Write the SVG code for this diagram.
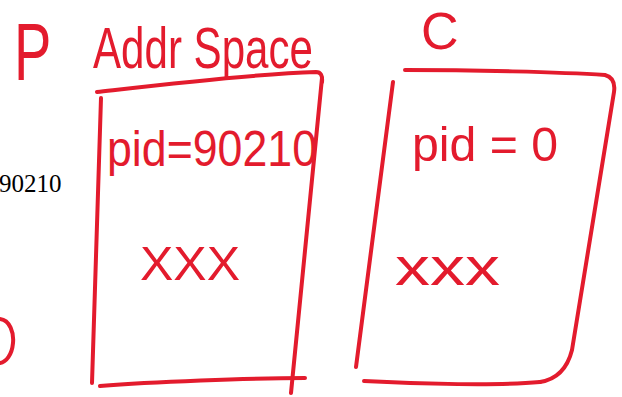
<svg xmlns="http://www.w3.org/2000/svg" width="622" height="397" viewBox="0 0 622 397">
<style>
.ink{fill:none;stroke:#e31b2d;stroke-width:4;stroke-linecap:round;stroke-linejoin:round}
.hw{fill:#e31b2d;font-family:"Liberation Sans",Arial,sans-serif}
.tx{fill:#000;font-family:"Liberation Serif","Times New Roman",serif}
</style>
<rect width="622" height="397" fill="#fff"/>
<g id="label-p"><text class="hw" transform="translate(14,80) scale(1,1.45)" font-size="56">P</text></g>
<g id="label-addr"><text class="hw" x="93" y="68" font-size="58" textLength="220" lengthAdjust="spacingAndGlyphs">Addr Space</text></g>
<g id="label-c"><text class="hw" x="421" y="49" font-size="52">C</text></g>
<g id="side-text"><text class="tx" x="-1" y="192" font-size="25">90210</text></g>
<g id="side-arc"><path class="ink" d="M0,319 C10,320 14,333 13,343 C12,355 6,362 0,363"/></g>
<g id="parent-box">
<path class="ink" d="M97,92 C150,86 250,74 316,72 Q323,72 322,82"/>
<path class="ink" d="M322,78 L291,393"/>
<path class="ink" d="M101,98 L92,383"/>
<path class="ink" d="M100,386 C150,382 250,378 305,378"/>
<text class="hw" x="107" y="166" font-size="50" textLength="210" lengthAdjust="spacingAndGlyphs">pid=90210</text>
<text class="hw" x="140" y="280" font-size="48" textLength="100" lengthAdjust="spacingAndGlyphs">XXX</text>
</g>
<g id="child-box">
<path class="ink" d="M405,70 C470,70 560,72 605,75 Q616,78 614,92 L572,350 Q565,378 540,382"/>
<path class="ink" d="M364,381 C420,384 500,386 540,382"/>
<path class="ink" d="M393,82 L356,367"/>
<text class="hw" x="412" y="161" font-size="48" textLength="146" lengthAdjust="spacingAndGlyphs">pid = 0</text>
<text class="hw" x="395" y="285" font-size="54" textLength="105" lengthAdjust="spacingAndGlyphs">xxx</text>
</g>
<g id="connectors"></g>
</svg>
